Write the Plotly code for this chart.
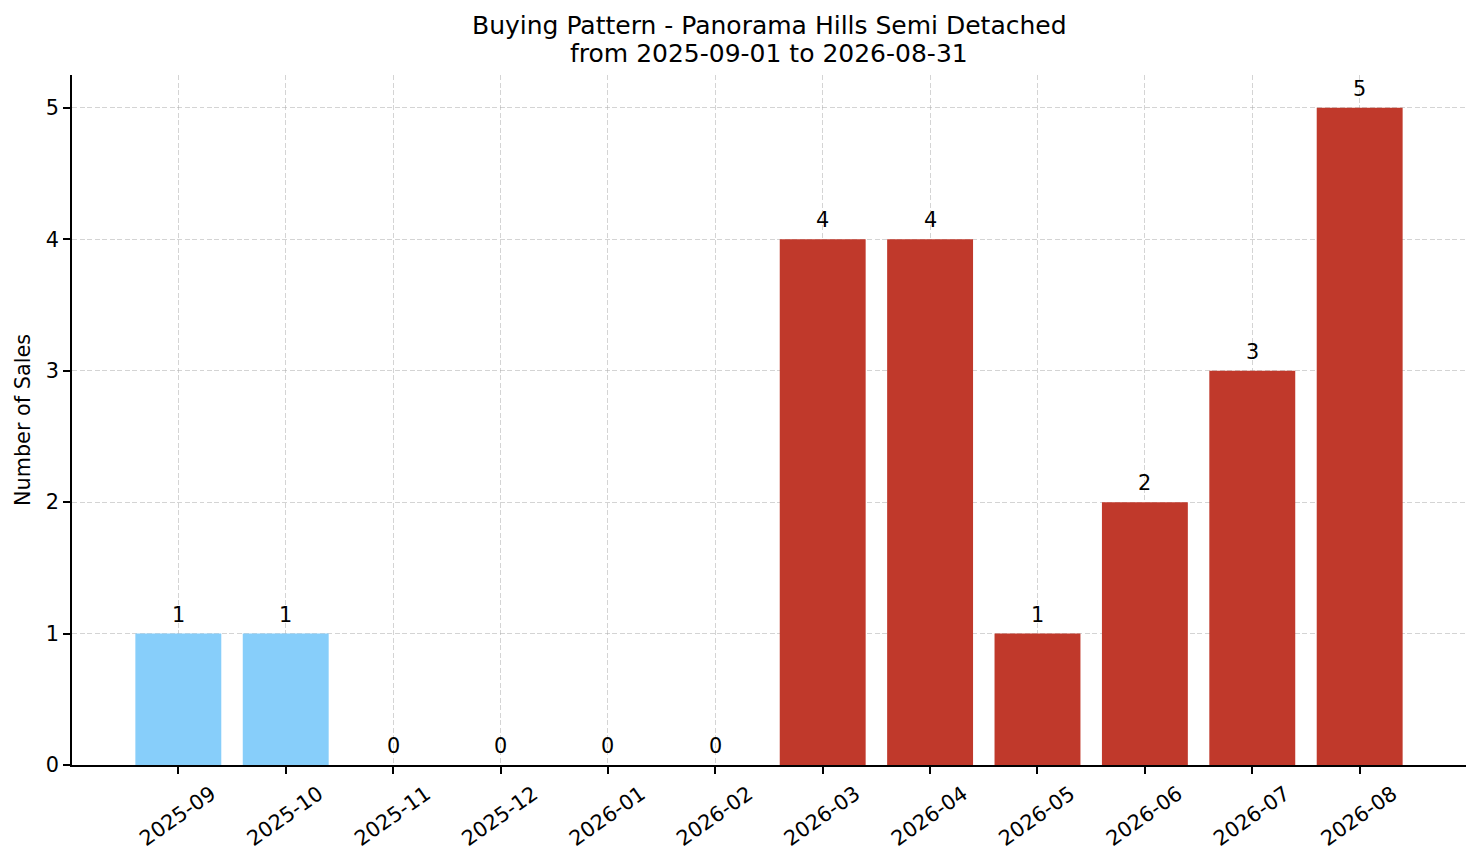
import plotly.graph_objects as go

# Data
months = ['2025-09', '2025-10', '2025-11', '2025-12', '2026-01', '2026-02',
          '2026-03', '2026-04', '2026-05', '2026-06', '2026-07', '2026-08']
sales = [1, 1, 0, 0, 0, 0, 4, 4, 1, 2, 3, 5]
y_ticks = [0, 1, 2, 3, 4, 5]
title_lines = ['Buying Pattern - Panorama Hills Semi Detached',
               'from 2025-09-01 to 2026-08-31']

# Style
blue = '#87CEFA'
red = '#C0392B'
grid_col = 'rgba(170,170,170,0.5)'
axis_col = '#000000'
font_family = 'DejaVu Sans'

bar_colors = [blue if m < '2025-11' else red for m in months]

fig = go.Figure()

fig.add_trace(go.Bar(
    x=months,
    y=sales,
    marker=dict(color=bar_colors, line=dict(width=0)),
    showlegend=False,
))

# value labels above each bar
for m, v in zip(months, sales):
    fig.add_annotation(
        x=m, y=v, text=str(v),
        showarrow=False, yanchor='bottom', yshift=5,
        font=dict(size=20.8, color='#000000', family=font_family),
    )

# two-line title, one annotation per line (above the plot area)
for line, shift in zip(title_lines, [50, 22]):
    fig.add_annotation(
        xref='paper', yref='paper', x=0.5, y=1, yshift=shift,
        text=line, showarrow=False, xanchor='center', yanchor='middle',
        font=dict(size=25, family=font_family, color='#000000'),
    )

# the page body has an 8px margin, so the figure is 8px smaller each way
fig.update_layout(
    width=1473, height=855,
    plot_bgcolor='white',
    paper_bgcolor='white',
    font=dict(family=font_family, color='#000000', size=20.8),
    bargap=0.2,
    margin=dict(l=64, r=15, t=67, b=94),
    xaxis=dict(
        type='category',
        range=[-0.99, 11.99],
        showgrid=True, gridcolor=grid_col, gridwidth=1, griddash='5px,2.5px',
        showline=True, linecolor=axis_col, linewidth=1.5,
        ticks='outside', ticklen=7, tickwidth=1.5, tickcolor=axis_col,
        tickangle=-35, ticklabelshift=33,
        tickfont=dict(size=20.8, family=font_family, color='#000000'),
        layer='above traces',
        zeroline=False,
    ),
    yaxis=dict(
        range=[0, 5.25],
        tickvals=y_ticks,
        showgrid=True, gridcolor=grid_col, gridwidth=1, griddash='5px,2.5px',
        showline=True, linecolor=axis_col, linewidth=1.5,
        ticks='outside', ticklen=7, tickwidth=1.5, tickcolor=axis_col,
        tickfont=dict(size=20.8, family=font_family, color='#000000'),
        title=dict(text='Number of Sales', font=dict(size=20.8, family=font_family, color='#000000'), standoff=10),
        layer='above traces',
        zeroline=False,
    ),
)

fig.write_html("out.html")
